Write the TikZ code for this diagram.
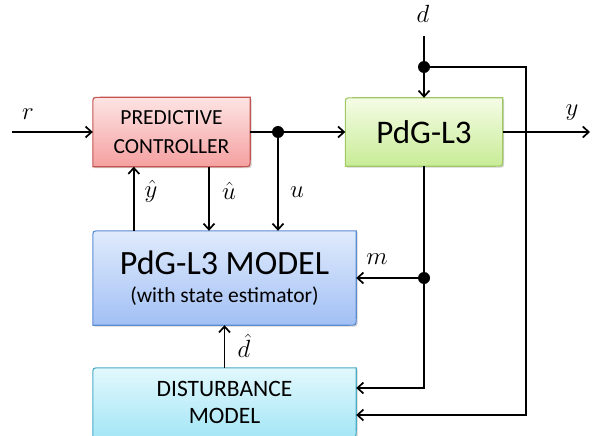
\documentclass[tikz,border=0pt]{standalone}
\usepackage{fontspec}
\setmainfont{Carlito}
\usetikzlibrary{arrows.meta,calc,shadows,backgrounds}
\definecolor{ctrltop}{RGB}{253,228,228}
\definecolor{ctrlbot}{RGB}{245,160,160}
\definecolor{ctrlbrd}{RGB}{196,84,80}
\definecolor{planttop}{RGB}{245,252,230}
\definecolor{plantbot}{RGB}{200,236,150}
\definecolor{plantbrd}{RGB}{160,200,100}
\definecolor{modeltop}{RGB}{224,235,252}
\definecolor{modelbot}{RGB}{162,192,245}
\definecolor{modelbrd}{RGB}{90,140,210}
\definecolor{disttop}{RGB}{226,248,253}
\definecolor{distbot}{RGB}{165,230,246}
\definecolor{distbrd}{RGB}{75,172,198}
\newcommand\diagbox[4]{%
  \path[preaction={fill=black,opacity=0.18,transform canvas={xshift=1.5pt,yshift=-1.5pt}},
        top color=#2,bottom color=#3,draw=#4,line width=1.1pt]
    ($(#1.north west)+(7,0)$) -- (#1.north east) -- ($(#1.south east)+(0,-7)$)
    .. controls (#1.south east) .. ($(#1.south east)+(-7,0)$) -- (#1.south west)
    -- ($(#1.north west)+(0,7)$) .. controls (#1.north west) .. cycle;}
\begin{document}
\begin{tikzpicture}[x=1pt,y=-1pt,
  blk/.style={inner sep=0pt,align=center,font=#1},
  arr/.style={line width=1.7pt,-{Straight Barb[length=6pt,width=11pt,line width=1.7pt]}},
  ln/.style={line width=1.7pt},
  dot/.style={circle,fill=black,inner sep=0pt,minimum size=12pt},
  lab/.style={font=\fontsize{24}{28}\selectfont}]
\useasboundingbox (0,0) rectangle (592,436);
\node[blk={\fontsize{21.5}{29}\selectfont},minimum width=157pt,minimum height=69pt] (ctrl) at (171.5,132) {PREDICTIVE\\CONTROLLER};
\node[blk={\fontsize{33}{36}\selectfont},minimum width=157pt,minimum height=68pt] (plant) at (424,132) {PdG-L3};
\node[blk={\fontsize{21.5}{28}\selectfont},minimum width=263pt,minimum height=94pt] (model) at (224.5,278) {{\fontsize{34}{28}\selectfont PdG-L3 MODEL}\\(with state estimator)};
\node[blk={\fontsize{23.5}{27}\selectfont},minimum width=263pt,minimum height=69pt] (dist) at (224.5,402.5) {DISTURBANCE\\MODEL};
\begin{scope}[on background layer]
\diagbox{ctrl}{ctrltop}{ctrlbot}{ctrlbrd}
\diagbox{plant}{planttop}{plantbot}{plantbrd}
\diagbox{model}{modeltop}{modelbot}{modelbrd}
\diagbox{dist}{disttop}{distbot}{distbrd}
\end{scope}
% r input
\coordinate (rin) at (12,132);
\draw[arr] (rin) -- (ctrl.west);
\node[lab] (rl) at (28,114) {$r$};
% u junction
\node[dot] (j1) at (278,132) {};
\draw[ln] (ctrl.east) -- (j1);
\draw[arr] (j1) -- (plant.west);
\draw[arr] (j1) -- (j1 |- model.north);
\node[lab] (ul) at (297,192) {$u$};
% u hat
\coordinate (uh) at ($(ctrl.south)+(37.5,0)$);
\draw[arr] (uh) -- (uh |- model.north);
\node[lab] (uhl) at (229,191) {$\hat{u}$};
% y hat
\coordinate (yh) at ($(model.north west)+(41,0)$);
\draw[arr] (yh) -- (yh |- ctrl.south);
\node[lab] (yhl) at (151,191) {$\hat{y}$};
% d input
\coordinate (din) at (424,36);
\node[dot] (j2) at (424,67) {};
\node[lab] (dl) at (423,14) {$d$};
\draw[ln] (din) -- (j2);
\draw[arr] (j2) -- (plant.north);
\coordinate (c1) at (526,67);
\coordinate (c2) at (526,415);
\draw[arr] (j2) -- (c1) -- (c2) -- (c2 -| dist.east);
% y output
\coordinate (yout) at (590,132);
\draw[arr] (plant.east) -- (yout);
\node[lab] (yl) at (572,113) {$y$};
% m
\node[dot] (j3) at (424,278) {};
\draw[ln] (plant.south) -- (j3);
\draw[arr] (j3) -- (model.east);
\node[lab] (ml) at (377,259) {$m$};
\coordinate (c3) at (424,388);
\draw[arr] (j3) -- (c3) -- (c3 -| dist.east);
% d hat
\draw[arr] (dist.north) -- (model.south);
\node[lab] (dhl) at (244,346) {$\hat{d}$};
\end{tikzpicture}
\end{document}
